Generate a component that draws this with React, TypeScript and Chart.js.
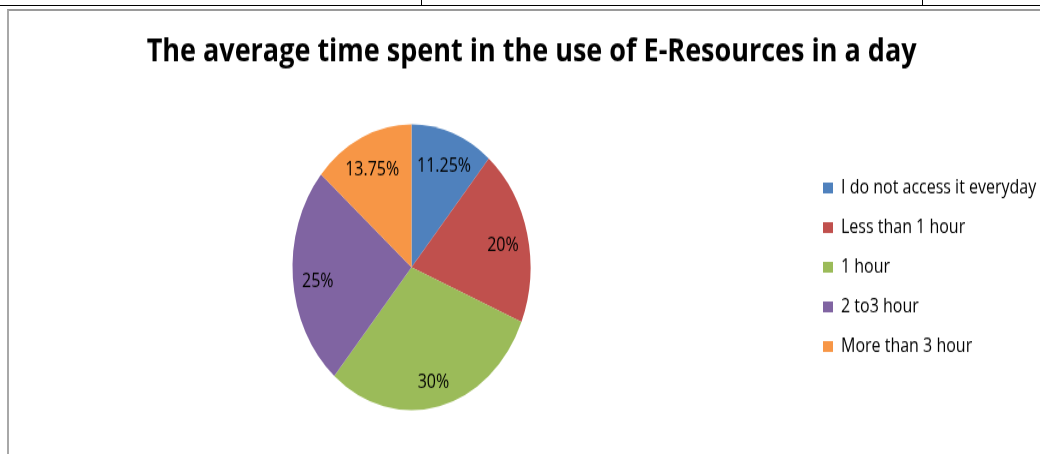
import React, { useEffect, useRef } from "react";
import { Chart, registerables } from "chart.js";

Chart.register(...registerables);

// ---- data ----
const TITLE = "The average time spent in the use of E-Resources in a day";
const CATEGORIES = [
  "I do not access it everyday",
  "Less than 1 hour",
  "1 hour",
  "2 to3 hour",
  "More than 3 hour",
];
const PERCENTAGES = [11.25, 20, 30, 25, 13.75];
const COLORS = ["#4F81BD", "#C0504D", "#9BBB59", "#8064A2", "#F79646"];

// ---- layout / style ----
const W = 1040;
const H = 454;
const IH = 378; // internal canvas height (stretched vertically to H)
const FONT = "'Open Sans'";
const TITLE_SIZE = 27;
const TITLE_PAD_TOP = 27.5;
const TITLE_PAD_BOTTOM = 10;
const LEGEND_SIZE = 16;
const LEGEND_PAD = 17;
const BOX_W = 10;
const BOX_H = 9;
const LEGEND_BOX_X = 823;
const PIE_CX = 411.5;
const PIE_CY = 222.5;
const PIE_R = 119;
const LABEL_SIZE = 16;
const LABEL_RADIUS = 0.79;
const LABEL_DY = 3;

const labelPlugin = {
  id: "sliceLabels",
  afterDatasetsDraw(chart: any) {
    const { ctx } = chart;
    const meta = chart.getDatasetMeta(0);
    const data = chart.data.datasets[0].data as number[];
    ctx.save();
    ctx.font = `${LABEL_SIZE}px ${FONT}`;
    ctx.fillStyle = "#000";
    ctx.textAlign = "center";
    ctx.textBaseline = "alphabetic";
    meta.data.forEach((arc: any, i: number) => {
      const { x, y, startAngle, endAngle, outerRadius } = arc.getProps(
        ["x", "y", "startAngle", "endAngle", "outerRadius"],
        true
      );
      const mid = (startAngle + endAngle) / 2;
      const r = outerRadius * LABEL_RADIUS;
      ctx.fillText(
        `${data[i]}%`,
        x + Math.cos(mid) * r,
        y + Math.sin(mid) * r + LABEL_SIZE * 0.36 + LABEL_DY
      );
    });
    ctx.restore();
  },
};

export default function App() {
  const ref = useRef<HTMLCanvasElement | null>(null);

  useEffect(() => {
    const canvas = ref.current;
    if (!canvas) return;

    const mctx = document.createElement("canvas").getContext("2d")!;
    mctx.font = `normal ${LEGEND_SIZE}px ${FONT}`;
    const maxText = Math.max(...CATEGORIES.map((c) => mctx.measureText(c).width));
    const legendWidth = LEGEND_PAD + BOX_W + LEGEND_SIZE / 2 + maxText + 10;
    const legendLeft = LEGEND_BOX_X - LEGEND_PAD;
    const padRight = W - (legendLeft + legendWidth);
    const padLeft = 2 * PIE_CX - legendLeft;
    const areaTop = TITLE_PAD_TOP + TITLE_SIZE * 1.2 + TITLE_PAD_BOTTOM;
    const padBottom = IH - (2 * PIE_CY - areaTop);

    const chart = new Chart(canvas, {
      type: "pie",
      data: {
        labels: CATEGORIES,
        datasets: [
          {
            data: PERCENTAGES,
            backgroundColor: COLORS,
            borderWidth: 0,
          },
        ],
      },
      options: {
        responsive: false,
        animation: false,
        devicePixelRatio: 1,
        radius: PIE_R,
        layout: {
          padding: { left: padLeft, right: padRight, top: 0, bottom: padBottom },
        },
        plugins: {
          title: {
            display: true,
            text: TITLE,
            color: "#000",
            font: { family: FONT, size: TITLE_SIZE, weight: "bold" },
            padding: { top: TITLE_PAD_TOP, bottom: TITLE_PAD_BOTTOM },
          },
          legend: {
            display: true,
            position: "right",
            fullSize: false,
            align: "center",
            labels: {
              color: "#000",
              font: { family: FONT, size: LEGEND_SIZE },
              boxWidth: BOX_W,
              boxHeight: BOX_H,
              padding: LEGEND_PAD,
            },
          },
          tooltip: { enabled: false },
        },
      } as any,
      plugins: [labelPlugin],
    });

    return () => chart.destroy();
  }, []);

  return (
    <div
      style={{
        position: "fixed",
        left: 0,
        top: 0,
        width: W,
        height: H,
        background: "#fff",
        overflow: "hidden",
      }}
    >
      <canvas
        ref={ref}
        width={W}
        height={IH}
        style={{ position: "absolute", left: 0, top: 0, width: W, height: H }}
      />
      <div style={{ position: "absolute", left: 0, top: 5, width: W, height: 1, background: "#000" }} />
      <div style={{ position: "absolute", left: 421, top: 0, width: 1, height: 5, background: "#000" }} />
      <div style={{ position: "absolute", left: 922, top: 0, width: 1, height: 5, background: "#000" }} />
      <div
        style={{
          position: "absolute",
          left: 7,
          top: 9,
          width: 1100,
          height: 500,
          borderTop: "2px solid #9a9a9a",
          borderLeft: "2px solid #a8a8a8",
          boxSizing: "border-box",
        }}
      />
    </div>
  );
}
